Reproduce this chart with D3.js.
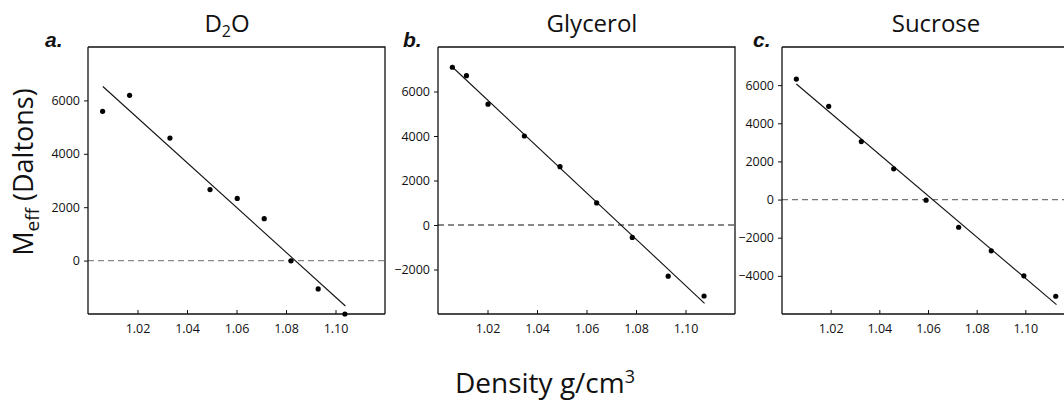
<!DOCTYPE html>
<html lang="en">
<head>
<meta charset="UTF-8">
<title>Meff vs density</title>
<script src="https://d3js.org/d3.v7.min.js"></script>
<style>
  body { margin: 0; background: #fff; }
  text { font-family: "Open Sans", sans-serif; fill: #111; }
</style>
</head>
<body>
<div id="chart"></div>
<script>
// values
const panelNames = ["a.", "b.", "c."];
const solvents = ["D2O", "Glycerol", "Sucrose"];

const densA = [1.0059, 1.0168, 1.0331, 1.0493, 1.0603, 1.0712, 1.0820, 1.0930, 1.1038];
const meffA = [5590, 6190, 4590, 2660, 2330, 1570, -10, -1060, -2000];
const fitXA = [1.006, 1.104];
const fitYA = [6520, -1700];

const densB = [1.0058, 1.0115, 1.0202, 1.0349, 1.0493, 1.0641, 1.0785, 1.0930, 1.1075];
const meffB = [7090, 6710, 5430, 4000, 2620, 990, -560, -2300, -3190];
const fitXB = [1.0058, 1.1077];
const fitYB = [7100, -3520];

const densC = [1.0059, 1.0192, 1.0326, 1.0459, 1.0592, 1.0726, 1.0860, 1.0994, 1.1125];
const meffC = [6320, 4890, 3040, 1610, -30, -1450, -2690, -4000, -5070];
const fitXC = [1.0059, 1.1128];
const fitYC = [6060, -5510];

const xDomain = [1.00, 1.12];
const xTicks = [1.02, 1.04, 1.06, 1.08, 1.10];
const yDomains = [[-2000, 8000], [-4000, 8000], [-6000, 8000]];
const yTicks = [
  [0, 2000, 4000, 6000],
  [-2000, 0, 2000, 4000, 6000],
  [-4000, -2000, 0, 2000, 4000, 6000]
];

// layout (pixels)
const W = 1064, H = 402;
const plotTop = 47, plotBottom = 314;
const layout = [
  {left: 88,  width: 297, titleX: 227, letterX: 45,  zeroColor: "#888"},
  {left: 438, width: 297, titleX: 592, letterX: 403, zeroColor: "#111"},
  {left: 782, width: 292, titleX: 936, letterX: 753, zeroColor: "#777"}
];

const series = [
  {x: densA, y: meffA, fx: fitXA, fy: fitYA},
  {x: densB, y: meffB, fx: fitXB, fy: fitYB},
  {x: densC, y: meffC, fx: fitXC, fy: fitYC}
];

const svg = d3.select("#chart").append("svg")
  .attr("width", W)
  .attr("height", H);

svg.append("rect").attr("width", W).attr("height", H).attr("fill", "#fff");

layout.forEach((p, i) => {
  const g = svg.append("g").attr("transform", "translate(" + p.left + "," + plotTop + ")");
  const h = plotBottom - plotTop;

  const x = d3.scaleLinear().domain(xDomain).range([0, p.width]);
  const y = d3.scaleLinear().domain(yDomains[i]).range([h, 0]);

  // frame top + right
  g.append("path")
    .attr("d", "M0,0H" + p.width + "V" + h)
    .attr("fill", "none")
    .attr("stroke", "#111")
    .attr("stroke-width", 1.3);

  // zero line
  g.append("line")
    .attr("x1", 0).attr("x2", p.width)
    .attr("y1", y(0)).attr("y2", y(0))
    .attr("stroke", p.zeroColor)
    .attr("stroke-width", 1.2)
    .attr("stroke-dasharray", "6,4");

  // axes
  const xAxis = g.append("g")
    .attr("transform", "translate(0," + h + ")")
    .call(d3.axisBottom(x).tickValues(xTicks).tickFormat(d3.format(".2f")).tickSize(-4).tickPadding(10));
  const yAxis = g.append("g")
    .call(d3.axisLeft(y).tickValues(yTicks[i]).tickFormat(d3.format("d")).tickSize(4).tickPadding(4));

  [xAxis, yAxis].forEach(a => {
    a.select(".domain").attr("stroke", "#111").attr("stroke-width", 1.3);
    a.selectAll(".tick line").attr("stroke", "#111").attr("stroke-width", 1);
    a.selectAll(".tick text")
      .style("font-family", "'Open Sans', sans-serif")
      .style("font-size", "12.5px")
      .attr("fill", "#1a1a1a");
  });
  yAxis.select(".domain").attr("d", "M0," + h + "V0");
  xAxis.select(".domain").attr("d", "M0,0H" + p.width);

  // fit line
  const s = series[i];
  g.append("line")
    .attr("x1", x(s.fx[0])).attr("y1", y(s.fy[0]))
    .attr("x2", x(s.fx[1])).attr("y2", y(s.fy[1]))
    .attr("stroke", "#111")
    .attr("stroke-width", 1.1);

  // points
  g.selectAll("circle")
    .data(d3.range(s.x.length))
    .enter().append("circle")
    .attr("cx", k => x(s.x[k]))
    .attr("cy", k => y(s.y[k]))
    .attr("r", 2.6)
    .attr("fill", "#000");

  // panel letter
  svg.append("text")
    .attr("x", p.letterX)
    .attr("y", 47)
    .style("font-family", "'Liberation Sans', Arial, sans-serif")
    .style("font-weight", "bold")
    .style("font-style", "italic")
    .style("font-size", "21px")
    .text(panelNames[i]);

  // title
  const t = svg.append("text")
    .attr("x", p.titleX)
    .attr("y", 32)
    .attr("text-anchor", "middle")
    .style("font-size", "24px");
  if (solvents[i] === "D2O") {
    t.append("tspan").text("D");
    t.append("tspan").attr("dy", 5).style("font-size", "16px").text("2");
    t.append("tspan").attr("dy", -5).text("O");
  } else {
    t.text(solvents[i]);
  }
});

// y label
const yl = svg.append("text")
  .attr("transform", "translate(33,172) rotate(-90)")
  .attr("text-anchor", "middle")
  .style("font-size", "27px");
yl.append("tspan").text("M");
yl.append("tspan").attr("dy", 6).style("font-size", "19px").text("eff");
yl.append("tspan").attr("dy", -6).text(" (Daltons)");

// x label
const xl = svg.append("text")
  .attr("x", 545)
  .attr("y", 393)
  .attr("text-anchor", "middle")
  .style("font-size", "28px");
xl.append("tspan").text("Density g/cm");
xl.append("tspan").attr("dy", -10).style("font-size", "18px").text("3");
</script>
</body>
</html>
